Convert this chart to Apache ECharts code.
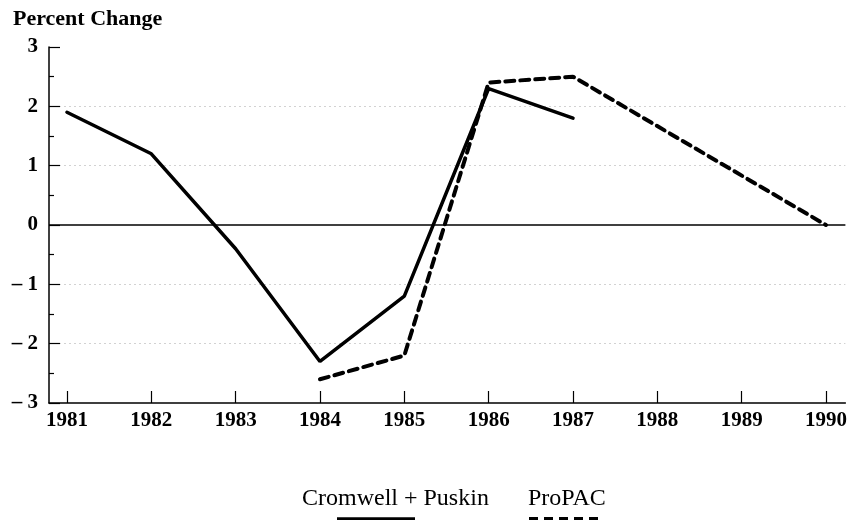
<!DOCTYPE html>
<html>
<head>
<meta charset="utf-8">
<script src="https://cdn.jsdelivr.net/npm/echarts@6/dist/echarts.min.js"></script>
<style>html,body{margin:0;padding:0;background:#fff}#c{width:850px;height:520px}</style>
</head>
<body>
<div id="c"></div>
<script>
var years = [1981, 1982, 1983, 1984, 1985, 1986, 1987, 1988, 1989, 1990];
var cromwellYears = [1981, 1982, 1983, 1984, 1985, 1986, 1987];
var cromwellValues = [1.9, 1.2, -0.4, -2.3, -1.2, 2.3, 1.8];
var propacYears = [1984, 1985, 1986, 1987, 1990];
var propacValues = [-2.6, -2.2, 2.4, 2.5, 0.0];
var yTicks = [-3, -2, -1, 0, 1, 2, 3];
var seriesNames = ['Cromwell + Puskin', 'ProPAC'];
var yTitle = 'Percent Change';

function pairs(xs, ys) { return xs.map(function (x, i) { return [x, ys[i]]; }); }

var FONT = '"Liberation Serif", "DejaVu Serif", serif';
var chart = echarts.init(document.getElementById('c'), null, { renderer: 'canvas' });
chart.setOption({
  animation: false,
  backgroundColor: '#fff',
  grid: { left: 49, right: 4, top: 47, bottom: 117, containLabel: false },
  xAxis: {
    type: 'value', min: 1980.787, max: 1990.23,
    axisLine: { show: true, onZero: false, lineStyle: { color: '#000', width: 1.5 } },
    axisTick: { show: true, inside: true, length: 12, customValues: years, lineStyle: { color: '#000', width: 1.2 } },
    axisLabel: { customValues: years, color: '#000', fontFamily: FONT, fontSize: 21, fontWeight: 'bold', margin: 7, formatter: function (v) { return String(v); } },
    splitLine: { show: false }
  },
  yAxis: {
    type: 'value', min: -3, max: 3, interval: 1,
    axisLine: { show: true, lineStyle: { color: '#000', width: 1.5 } },
    axisTick: { show: true, inside: true, length: 11, lineStyle: { color: '#000', width: 1.2 } },
    minorTick: { show: true, splitNumber: 2, length: 5, lineStyle: { color: '#000', width: 1.2 } },
    axisLabel: { color: '#000', fontFamily: FONT, fontSize: 21, fontWeight: 'bold', margin: 11,
      formatter: function (v) { return v < 0 ? '\u2013 ' + Math.abs(v) : String(v); } },
    splitLine: { show: true, lineStyle: { type: [2, 3], width: 1,
      color: ['rgba(0,0,0,0)', '#d2d2d2', '#d2d2d2', 'rgba(0,0,0,0)', '#d2d2d2', '#d2d2d2', 'rgba(0,0,0,0)'] } }
  },
  series: [
    {
      name: seriesNames[0], type: 'line', data: pairs(cromwellYears, cromwellValues),
      symbol: 'none', lineStyle: { color: '#000', width: 3.5, cap: 'round' },
      markLine: { silent: true, symbol: 'none', label: { show: false },
        lineStyle: { color: '#000', width: 1.5, type: 'solid' }, data: [{ yAxis: 0 }] }
    },
    {
      name: seriesNames[1], type: 'line', data: pairs(propacYears, propacValues),
      symbol: 'none', lineStyle: { color: '#000', width: 4, type: [9, 6], cap: 'round' }
    }
  ],
  graphic: [
    { type: 'text', left: 13, top: 8, style: { text: yTitle, font: 'bold 22px ' + FONT, fill: '#000' } },
    { type: 'text', left: 302, top: 487, style: { text: seriesNames[0], font: '24px ' + FONT, fill: '#000' } },
    { type: 'text', left: 528, top: 487, style: { text: seriesNames[1], font: '24px ' + FONT, fill: '#000' } },
    { type: 'line', shape: { x1: 337, y1: 519, x2: 415, y2: 519 }, style: { stroke: '#000', lineWidth: 3.5 } },
    { type: 'line', shape: { x1: 529, y1: 519, x2: 604, y2: 519 }, style: { stroke: '#000', lineWidth: 4, lineDash: [9, 6] } }
  ]
});
</script>
</body>
</html>
